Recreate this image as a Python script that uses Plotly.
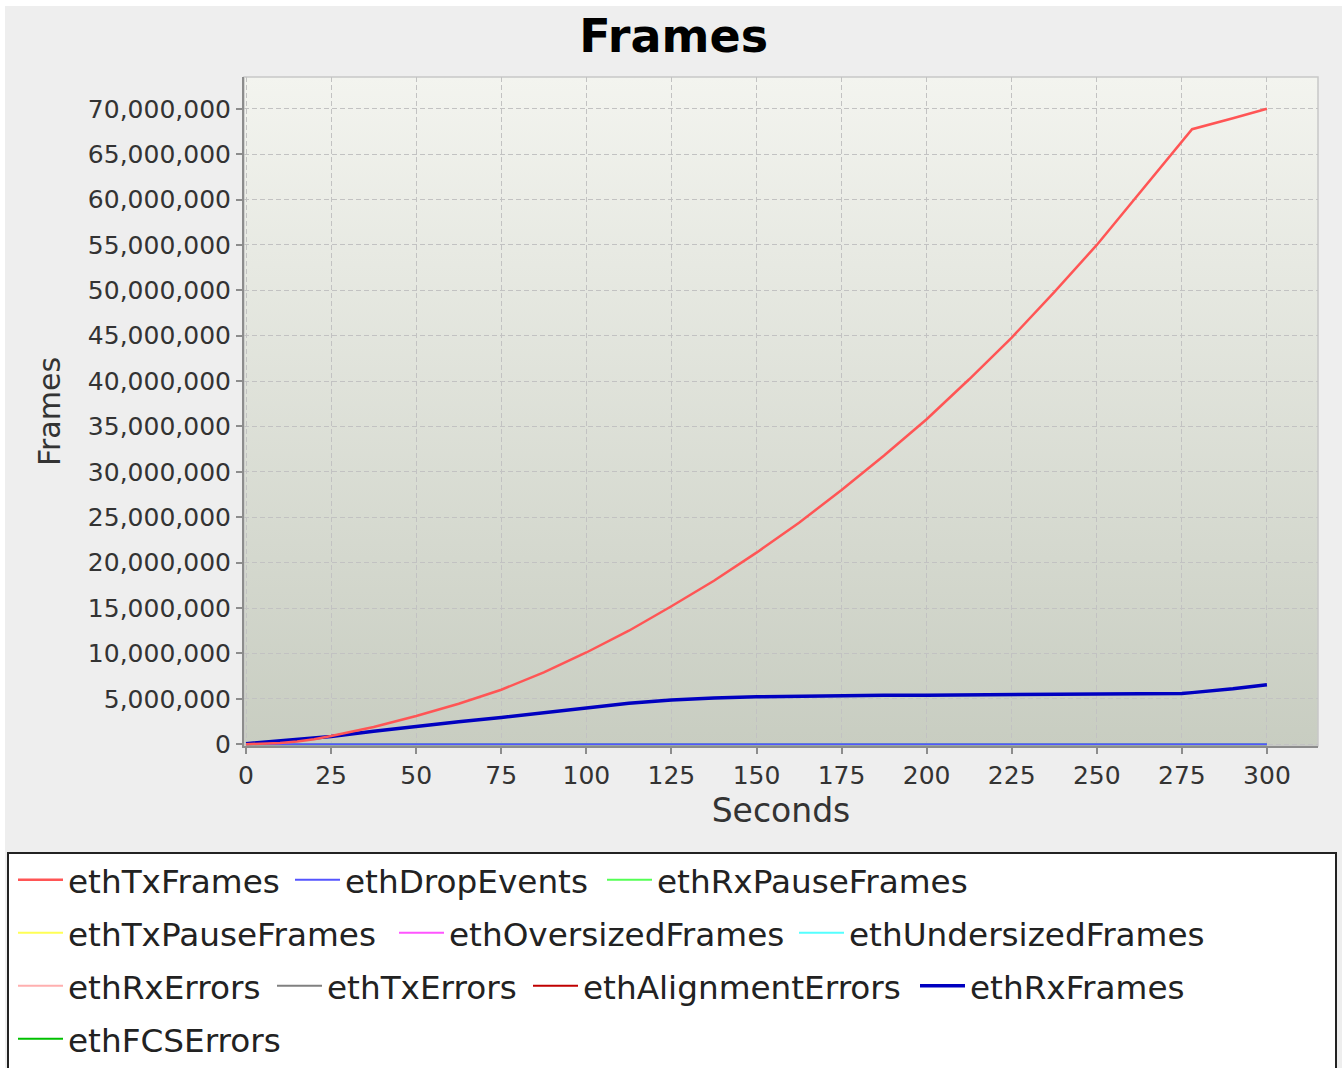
import base64
import plotly.graph_objects as go

# ---------------- data ----------------
seconds = [0, 5, 10, 15, 20, 25, 37.5, 50, 62.5, 75, 87.5, 100, 112.5, 125, 137.5,
           150, 162.5, 175, 187.5, 200, 212.5, 225, 237.5, 250, 262.5, 275, 278, 290, 300]

ethTxFrames = [0, 30000, 120000, 300000, 550000, 900000, 1900000, 3100000, 4450000,
               6000000, 7900000, 10100000, 12500000, 15200000, 18000000, 21100000,
               24400000, 28000000, 31800000, 35800000, 40200000, 44800000, 49800000,
               55000000, 60700000, 66400000, 67750000, 68950000, 70000000]

ethRxFrames = [50000, 200000, 350000, 500000, 680000, 850000, 1420000, 1980000, 2480000,
               2950000, 3450000, 3950000, 4500000, 4880000, 5100000, 5220000, 5300000,
               5350000, 5380000, 5400000, 5420000, 5440000, 5460000, 5470000, 5500000,
               5580000, 5680000, 6100000, 6550000]

ethDropEvents = [0, 0, 0, 0, 0, 0, 0, 0, 0, 0, 0, 0, 0, 0, 0, 0, 0, 0, 0, 0, 0, 0, 0, 0, 0, 0, 0, 0, 0]
ethRxPauseFrames = [0, 0, 0, 0, 0, 0, 0, 0, 0, 0, 0, 0, 0, 0, 0, 0, 0, 0, 0, 0, 0, 0, 0, 0, 0, 0, 0, 0, 0]
ethTxPauseFrames = [0, 0, 0, 0, 0, 0, 0, 0, 0, 0, 0, 0, 0, 0, 0, 0, 0, 0, 0, 0, 0, 0, 0, 0, 0, 0, 0, 0, 0]
ethOversizedFrames = [0, 0, 0, 0, 0, 0, 0, 0, 0, 0, 0, 0, 0, 0, 0, 0, 0, 0, 0, 0, 0, 0, 0, 0, 0, 0, 0, 0, 0]
ethUndersizedFrames = [0, 0, 0, 0, 0, 0, 0, 0, 0, 0, 0, 0, 0, 0, 0, 0, 0, 0, 0, 0, 0, 0, 0, 0, 0, 0, 0, 0, 0]
ethRxErrors = [0, 0, 0, 0, 0, 0, 0, 0, 0, 0, 0, 0, 0, 0, 0, 0, 0, 0, 0, 0, 0, 0, 0, 0, 0, 0, 0, 0, 0]
ethTxErrors = [0, 0, 0, 0, 0, 0, 0, 0, 0, 0, 0, 0, 0, 0, 0, 0, 0, 0, 0, 0, 0, 0, 0, 0, 0, 0, 0, 0, 0]
ethAlignmentErrors = [0, 0, 0, 0, 0, 0, 0, 0, 0, 0, 0, 0, 0, 0, 0, 0, 0, 0, 0, 0, 0, 0, 0, 0, 0, 0, 0, 0, 0]
ethFCSErrors = [0, 0, 0, 0, 0, 0, 0, 0, 0, 0, 0, 0, 0, 0, 0, 0, 0, 0, 0, 0, 0, 0, 0, 0, 0, 0, 0, 0, 0]

series_names = ["ethTxFrames", "ethDropEvents", "ethRxPauseFrames",
                "ethTxPauseFrames", "ethOversizedFrames", "ethUndersizedFrames",
                "ethRxErrors", "ethTxErrors", "ethAlignmentErrors", "ethRxFrames",
                "ethFCSErrors"]
series_values = [ethTxFrames, ethDropEvents, ethRxPauseFrames,
                 ethTxPauseFrames, ethOversizedFrames, ethUndersizedFrames,
                 ethRxErrors, ethTxErrors, ethAlignmentErrors, ethRxFrames,
                 ethFCSErrors]
series_colors = ["#FF5555", "#5555FF", "#55FF55",
                 "#FFFF55", "#FF55FF", "#55FFFF",
                 "#FFAFAF", "#808080", "#C00000", "#0000C0",
                 "#00C000"]

# legend layout (flow layout of the original legend box): row index and symbol x (px)
legend_row = [0, 0, 0, 1, 1, 1, 2, 2, 2, 2, 3]
legend_sym_x = [18, 295, 607, 18, 399, 799, 18, 277, 533, 920, 18]
row_centers = [880, 933, 986, 1039]

# ---------------- geometry ----------------
W, H = 1342, 1068
PL, PR, PT, PB = 244, 1318, 77, 746   # plot area in pixels
PW, PH = PR - PL, PB - PT


def px_x(p):
    return (p - PL) / PW


def px_y(p):
    return (PB - p) / PH


FONT = "DejaVu Sans"

fig = go.Figure()


def legend_id(i):
    return "legend" if i == 0 else "legend%d" % (i + 1)


# reverse render order (first series drawn on top)
for i in reversed(range(len(series_names))):
    name = series_names[i]
    width = 2.5 if name == "ethTxFrames" else (3.5 if name == "ethRxFrames" else 2)
    fig.add_trace(go.Scatter(
        x=seconds, y=series_values[i], name=name, mode="lines",
        line=dict(color=series_colors[i], width=width),
        legend=legend_id(i),
    ))

# gradient plot background
svg = ('<svg xmlns="http://www.w3.org/2000/svg" width="100" height="100" viewBox="0 0 100 100" '
       'preserveAspectRatio="none"><defs><linearGradient id="g" x1="0" y1="0" x2="0" y2="1">'
       '<stop offset="0" stop-color="#F3F4EF"/><stop offset="1" stop-color="#C8CDC1"/>'
       '</linearGradient></defs><rect width="100" height="100" fill="url(#g)"/></svg>')
svg_uri = "data:image/svg+xml;base64," + base64.b64encode(svg.encode()).decode()

legend_common = dict(orientation="h", xanchor="left", yanchor="middle",
                     bgcolor="rgba(0,0,0,0)", borderwidth=0, itemwidth=45,
                     font=dict(family=FONT, size=32.7, color="#222222"),
                     itemclick=False, itemdoubleclick=False)

legends = {}
for i in range(len(series_names)):
    legends[legend_id(i)] = dict(x=px_x(legend_sym_x[i] - 5),
                                 y=px_y(row_centers[legend_row[i]]),
                                 **legend_common)

fig.update_layout(
    width=W, height=H,
    margin=dict(l=PL, r=W - PR, t=PT, b=H - PB, autoexpand=False),
    paper_bgcolor="#EEEEEE",
    plot_bgcolor="rgba(0,0,0,0)",
    title=dict(text="Frames", x=0.502, xref="container", xanchor="center",
               y=1 - 36 / H, yref="container", yanchor="middle",
               font=dict(family=FONT, size=46, color="#000000", weight="bold")),
    xaxis=dict(range=[-0.6, 315], dtick=25, tick0=0, tickformat="d",
               showgrid=True, gridcolor="#C2C2C2", griddash="5px,3px", gridwidth=1,
               zeroline=False, showline=True, linecolor="#8C8C8C", linewidth=2,
               ticks="outside", ticklen=6, tickcolor="#8C8C8C", tickwidth=1.5,
               tickfont=dict(family=FONT, size=25, color="#333333"),
               title=dict(text="Seconds", standoff=10,
                          font=dict(family=FONT, size=33, color="#333333")),
               automargin=False, fixedrange=True),
    yaxis=dict(range=[-0.2e6, 73.5e6], dtick=5e6, tick0=0, tickformat=",d",
               showgrid=True, gridcolor="#C2C2C2", griddash="5px,3px", gridwidth=1,
               zeroline=False, showline=True, linecolor="#8C8C8C", linewidth=2,
               ticks="outside", ticklen=6, tickcolor="#8C8C8C", tickwidth=1.5,
               tickfont=dict(family=FONT, size=25, color="#333333"),
               title=dict(text="Frames", standoff=18,
                          font=dict(family=FONT, size=30, color="#333333")),
               automargin=False, fixedrange=True),
    images=[dict(source=svg_uri, xref="paper", yref="paper", x=0, y=1, sizex=1, sizey=1,
                 xanchor="left", yanchor="top", sizing="stretch", layer="below")],
    shapes=[
        # plot area outline
        dict(type="rect", xref="paper", yref="paper", x0=0, x1=1, y0=0, y1=1,
             line=dict(color="#C8C8C8", width=1.5), fillcolor="rgba(0,0,0,0)", layer="below"),
        # legend box
        dict(type="rect", xref="paper", yref="paper",
             x0=px_x(8), x1=px_x(1336), y0=px_y(1085), y1=px_y(853),
             line=dict(color="#222222", width=2), fillcolor="#FFFFFF", layer="above"),
        # thin white edges of the original image
        dict(type="rect", xref="paper", yref="paper",
             x0=px_x(-5), x1=px_x(W + 5), y0=px_y(6), y1=px_y(-5),
             line=dict(width=0), fillcolor="#FFFFFF", layer="above"),
        dict(type="rect", xref="paper", yref="paper",
             x0=px_x(-5), x1=px_x(5), y0=px_y(H + 5), y1=px_y(-5),
             line=dict(width=0), fillcolor="#FFFFFF", layer="above"),
    ],
    showlegend=True,
    **legends,
)

fig.write_html("out.html", config={"displayModeBar": False},
               post_script="document.body.style.margin='0';document.body.style.padding='0';")
